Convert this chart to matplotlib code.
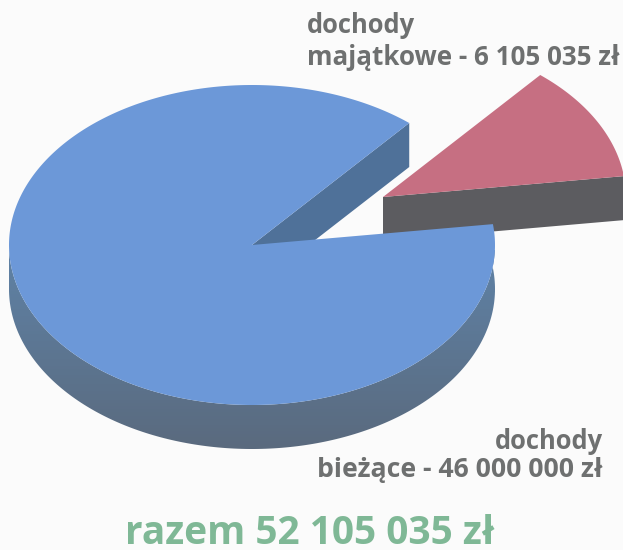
# -*- coding: utf-8 -*-
import numpy as np
import matplotlib

matplotlib.use('Agg')

import matplotlib.pyplot as plt
from matplotlib.patches import Polygon
from matplotlib.colors import LinearSegmentedColormap

plt.rcParams['font.family'] = ['Open Sans', 'DejaVu Sans']

VALUES = [46000000, 6105035]
TOP_COLORS = ['#6c98d8', '#c66f82']
SIDE_COLORS = [('#5f82a6', '#5a6a7e'), ('#5c5c60', '#5c5c60')]
CENTERS = [(252, 245), (383, 197)]
TEXT_GRAY = '#6e7070'
TEXT_GREEN = '#7fb896'

RX, RY = 243, 160
DEPTH = 44
START = 7.5


def _arc(center, a0, a1, n=200):
    t = np.radians(np.linspace(a0, a1, n))
    return np.column_stack([center[0] + RX * np.cos(t), center[1] - RY * np.sin(t)])


def _gradient(ax, poly, c0, c1, ymin, ymax):
    cmap = LinearSegmentedColormap.from_list('side', [c0, c1])
    im = ax.imshow(np.linspace(0, 1, 64).reshape(-1, 1), cmap=cmap, aspect='auto',
                   extent=(0, 623, ymax, ymin), zorder=poly.get_zorder())
    poly.set_facecolor('none')
    poly.set_edgecolor('none')
    ax.add_patch(poly)
    im.set_clip_path(poly)


def main():
    fig = plt.figure(figsize=(6.23, 5.5), dpi=100, facecolor='#fbfbfb')
    ax = fig.add_axes([0, 0, 1, 1])
    ax.set_facecolor('#fbfbfb')

    # kąty wycinków liczone z wartości
    sweep = [v / sum(VALUES) * 360 for v in VALUES]
    gap_end = START + sweep[1]
    main_end = gap_end + sweep[0]

    # mały wycinek: bok, potem wierzch
    c = CENTERS[1]
    first = _arc(c, START, START, 1)[0]
    side = np.array([[c[0], c[1]], [c[0], c[1] + DEPTH], [first[0], first[1] + DEPTH], first])
    ax.add_patch(Polygon(side, closed=True, fc=SIDE_COLORS[1][0], ec='none', zorder=1))
    arc = _arc(c, START, gap_end)
    ax.add_patch(Polygon(np.vstack([[c], arc]), closed=True, fc=TOP_COLORS[1], ec='none', zorder=2))

    # duży wycinek: ścianka cięcia, bok, wierzch
    c = CENTERS[0]
    tip = _arc(c, gap_end, gap_end, 1)[0]
    cut = np.array([c, tip, [tip[0], tip[1] + DEPTH], [c[0], c[1] + DEPTH]])
    ax.add_patch(Polygon(cut, closed=True, fc='#4f7199', ec='none', zorder=3))

    rim = _arc(c, 180, main_end)
    outer = np.vstack([rim, rim[::-1] + [0, DEPTH]])
    side_poly = Polygon(outer, closed=True, zorder=3)
    _gradient(ax, side_poly, SIDE_COLORS[0][0], SIDE_COLORS[0][1], 250, 450)

    arc = _arc(c, gap_end, main_end, 400)
    ax.add_patch(Polygon(np.vstack([[c], arc]), closed=True, fc=TOP_COLORS[0], ec='none', zorder=4))

    ax.set_xlim(0, 623)
    ax.set_ylim(550, 0)
    ax.axis('off')

    ax.text(307, 33, 'dochody', fontsize=18.4, fontweight='bold', color=TEXT_GRAY, zorder=5)
    ax.text(307, 65, 'majątkowe - 6 105 035 zł', fontsize=18.7, fontweight='bold',
            color=TEXT_GRAY, zorder=5)
    ax.text(603, 449, 'dochody', fontsize=18.4, fontweight='bold', color=TEXT_GRAY,
            ha='right', zorder=5)
    ax.text(603, 477, 'bieżące - 46 000 000 zł', fontsize=19.2, fontweight='bold',
            color=TEXT_GRAY, ha='right', zorder=5)
    ax.text(125, 544, 'razem 52 105 035 zł', fontsize=28, fontweight='bold',
            color=TEXT_GREEN, zorder=5)

    fig.savefig('out.png', dpi=100, facecolor=fig.get_facecolor())


if __name__ == '__main__':
    main()
